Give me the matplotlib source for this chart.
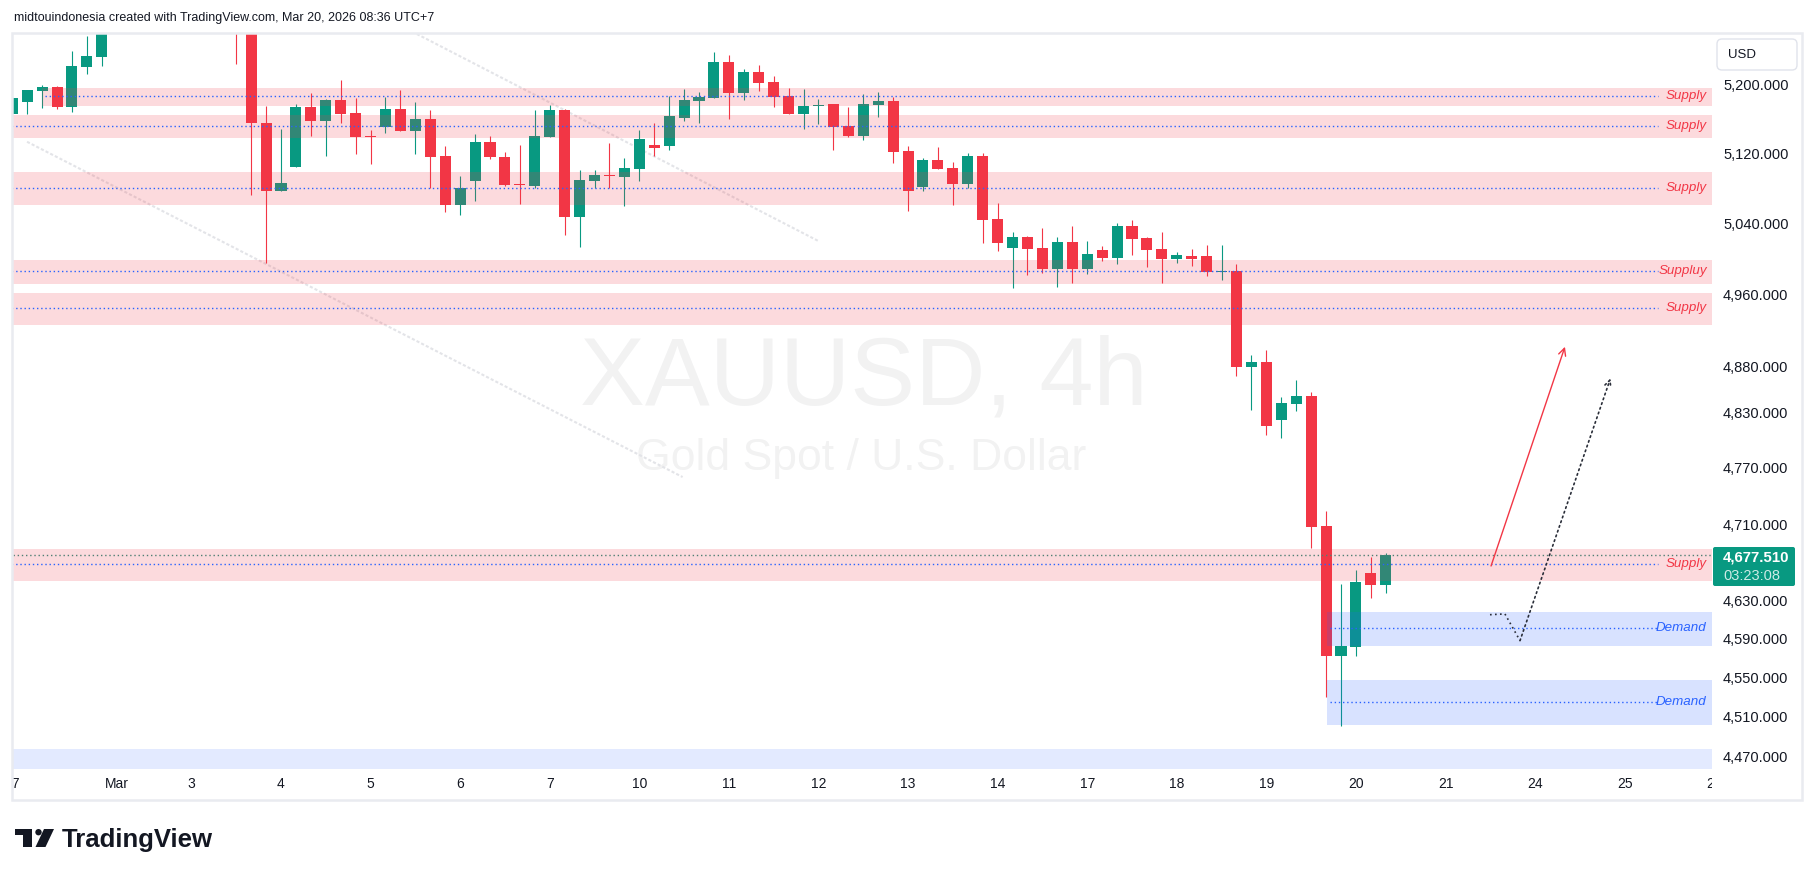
import matplotlib.pyplot as plt
import matplotlib.patches as mpatches
from matplotlib.ticker import FixedLocator, NullLocator, FuncFormatter
import numpy as np

plt.rcParams['font.family'] = ['Liberation Sans', 'DejaVu Sans']

W, H = 1815, 877
nan = np.nan

# ---------------- data (XAUUSD 4h) ----------------
# bar index 0 = first visible bar; bars 7..14 are above the visible range
opens = [5165.5, 5179.9, 5192.8, 5197.1, 5174.0, 5220.9, 5232.6, nan, nan, nan,
         nan, nan, nan, nan, nan, 5300.0, 5290.0, 5155.2, 5077.1, 5104.6,
         5173.4, 5157.8, 5181.9, 5166.7, 5139.8, 5150.8, 5171.4, 5146.2, 5159.8, 5116.9,
         5061.1, 5088.2, 5133.1, 5116.1, 5085.0, 5082.9, 5139.3, 5170.2, 5047.5, 5088.5,
         5095.0, 5093.1, 5102.0, 5129.6, 5128.5, 5160.9, 5181.1, 5184.2, 5226.4, 5190.4,
         5214.7, 5202.9, 5186.6, 5165.5, 5174.5, 5177.2, 5151.3, 5140.5, 5176.0, 5180.7,
         5122.8, 5081.7, 5112.3, 5103.1, 5084.7, 5116.9, 5044.8, 5012.4, 5024.4, 5011.9,
         4988.4, 5018.8, 4988.4, 5009.8, 5000.7, 5036.9, 5023.3, 5010.9, 4999.6, 5003.1,
         5003.1, 4985.4, 4986.3, 4879.9, 4884.7, 4821.6, 4839.3, 4847.8, 4707.9, 4572.5,
         4581.7, 4658.3, 4646.1]
highs = [5186.0, 5194.0, 5199.4, 5198.6, 5239.0, 5257.6, 5280.0, nan, nan, nan,
         nan, nan, nan, nan, nan, 5310.0, 5300.0, 5174.9, 5148.4, 5177.2,
         5190.1, 5183.4, 5205.3, 5184.2, 5147.0, 5185.4, 5193.6, 5179.6, 5170.2, 5128.5,
         5093.9, 5142.4, 5140.5, 5121.6, 5129.6, 5170.2, 5176.0, 5171.0, 5100.8, 5100.8,
         5131.6, 5114.3, 5147.0, 5155.1, 5186.2, 5194.7, 5191.2, 5238.2, 5234.7, 5218.2,
         5222.9, 5210.0, 5195.6, 5194.7, 5183.0, 5177.5, 5173.7, 5188.9, 5191.2, 5185.7,
         5128.5, 5114.6, 5127.3, 5110.0, 5120.4, 5120.4, 5063.1, 5030.0, 5025.5, 5034.6,
         5024.4, 5036.9, 5019.9, 5014.4, 5040.3, 5043.7, 5024.4, 5030.0, 5007.5, 5010.9,
         5015.4, 5015.4, 4994.0, 4892.7, 4898.2, 4846.7, 4865.3, 4852.1, 4723.8, 4646.8,
         4661.5, 4674.9, 4679.4]
lows = [5163.0, 5165.5, 5172.9, 5171.7, 5168.2, 5212.7, 5222.1, nan, nan, nan,
        nan, nan, nan, nan, nan, 5224.3, 5072.6, 4995.5, 5077.0, 5104.3,
        5140.4, 5117.3, 5155.5, 5119.6, 5107.8, 5143.9, 5146.0, 5119.6, 5080.2, 5052.8,
        5049.7, 5065.4, 5113.8, 5082.5, 5062.3, 5080.6, 5138.6, 5027.1, 5013.5, 5080.6,
        5079.9, 5060.0, 5088.2, 5116.6, 5123.9, 5157.8, 5155.5, 5184.0, 5159.8, 5181.9,
        5192.8, 5173.7, 5165.9, 5148.5, 5154.3, 5123.9, 5139.3, 5135.4, 5162.1, 5108.5,
        5054.0, 5076.8, 5102.0, 5060.8, 5079.9, 5018.1, 5009.0, 4966.8, 4981.6, 4983.9,
        4968.6, 4973.0, 4983.2, 4997.3, 4994.0, 5004.2, 4990.6, 4973.0, 4995.2, 4991.7,
        4980.6, 4976.0, 4870.0, 4832.5, 4805.4, 4802.1, 4831.4, 4684.9, 4529.7, 4500.9,
        4572.5, 4632.5, 4637.8]
closes = [5184.2, 5193.6, 5197.1, 5174.0, 5221.7, 5233.5, 5272.0, nan, nan, nan,
          nan, nan, nan, nan, nan, 5275.0, 5155.5, 5077.1, 5086.5, 5173.4,
          5157.8, 5181.9, 5165.9, 5139.3, 5139.0, 5171.4, 5146.2, 5159.8, 5116.1, 5061.1,
          5080.2, 5133.1, 5116.1, 5083.6, 5084.0, 5140.5, 5170.2, 5047.5, 5089.0, 5095.1,
          5094.0, 5103.1, 5136.6, 5126.5, 5163.2, 5181.9, 5185.0, 5226.4, 5190.4, 5214.7,
          5202.1, 5185.7, 5165.9, 5174.9, 5175.0, 5150.8, 5140.5, 5177.2, 5180.7, 5121.6,
          5076.8, 5112.3, 5102.0, 5084.7, 5116.9, 5043.7, 5018.1, 5024.4, 5011.4, 4988.4,
          5018.8, 4988.4, 5005.3, 5000.7, 5036.9, 5022.2, 5009.8, 4999.9, 5004.2, 4999.6,
          4985.4, 4986.0, 4879.9, 4884.7, 4815.1, 4840.2, 4847.8, 4707.1, 4572.5, 4582.4,
          4648.9, 4646.1, 4677.51]
last_price = 4677.51
countdown = "03:23:08"

# supply / demand zones
zone_top = [5195.9, 5164.4, 5098.6, 4998.5, 4961.5, 4683.6, 4617.6, 4547.5, 4477.4]
zone_bottom = [5174.9, 5138.1, 5061.1, 4971.9, 4926.2, 4650.3, 4582.7, 4501.6, 4440.0]
zone_level = [5186.2, 5151.3, 5079.9, 4985.8, 4944.5, 4667.5, 4601.0, 4525.0, nan]
zone_label = ["Supply", "Supply", "Supply", "Suppluy", "Supply", "Supply", "Demand", "Demand", ""]
zone_kind = ["supply"] * 6 + ["demand", "demand", "faint"]
zone_start = [2.0, -1, -1, -1, -1, -1, 88.05, 88.05, -1]

# drawings
arrow_bar = [99.05, 104.0]
arrow_price = [4665.7, 4901.8]
path_bar = [98.98, 99.98, 100.99, 107.05]
path_price = [4614.8, 4615.6, 4587.9, 4867.0]
chan_a_bar = [27.1, 54.0]
chan_a_price = [5259.5, 5019.9]
chan_b_bar = [0.99, 44.9]
chan_b_price = [5133.4, 4760.1]

# axes labels
price_ticks = [5200, 5120, 5040, 4960, 4880, 4830, 4770, 4710, 4630, 4590, 4550, 4510, 4470]
day_pos = [0, 7, 12, 18, 24, 30, 36, 42, 48, 54, 60, 66, 72, 78, 84, 90, 96, 102, 108, 114]
day_text = ["27", "Mar", "3", "4", "5", "6", "7", "10", "11", "12", "13", "14",
            "17", "18", "19", "20", "21", "24", "25", "26"]

UP = "#089981"
DOWN = "#f23645"
BLUE = "#2962ff"
TXT = "#131722"

# ---------------- figure ----------------
fig = plt.figure(figsize=(W / 100, H / 100), dpi=100)
fig.patch.set_facecolor("white")

px_l, px_r, px_t, px_b = 13, 1712, 34, 768
ax = fig.add_axes([px_l / W, 1 - px_b / H, (px_r - px_l) / W, (px_b - px_t) / H])
ax.set_yscale("log")
ax.set_xlim(0.05, 113.85)
ax.set_ylim(4458.2, 5259.5)
for s in ax.spines.values():
    s.set_visible(False)

# watermark
ax.text(0.501, 0.4946, "XAUUSD, 4h", transform=ax.transAxes, ha="center", va="baseline",
        fontsize=70, color=TXT, alpha=0.055, zorder=0)
ax.text(0.499, 0.406, "Gold Spot / U.S. Dollar", transform=ax.transAxes, ha="center",
        va="baseline", fontsize=32, color=TXT, alpha=0.055, zorder=0)

# channel lines (very faint)
ax.plot(chan_a_bar, chan_a_price, color="#e3e4e8", lw=1.5, ls=(0, (1.5, 1)), zorder=1)
ax.plot(chan_b_bar, chan_b_price, color="#e3e4e8", lw=1.5, ls=(0, (1.5, 1)), zorder=1)

# candles
o = np.array(opens); h = np.array(highs); l = np.array(lows); c = np.array(closes)
idx = np.arange(len(o))
ok = ~np.isnan(o)
col = np.where(c >= o, UP, DOWN)
ax.vlines(idx[ok], l[ok], h[ok], colors=col[ok], lw=0.8, zorder=2)
body_lo = np.minimum(o, c)
body_h = np.maximum(np.abs(c - o), 1.0)
ax.bar(idx[ok], body_h[ok], bottom=body_lo[ok], width=0.74, color=col[ok], linewidth=0, zorder=3)

# zones (drawn over candles, translucent)
x_right = 113.85
for top, bot, lev, lab, kind, start in zip(zone_top, zone_bottom, zone_level,
                                            zone_label, zone_kind, zone_start):
    if kind == "supply":
        fc, a, tc = DOWN, 0.18, DOWN
    elif kind == "demand":
        fc, a, tc = BLUE, 0.18, BLUE
    else:
        fc, a, tc = BLUE, 0.13, BLUE
    ax.fill_between([start, x_right], bot, top, color=fc, alpha=a, lw=0, zorder=4)
    if not np.isnan(lev):
        ls = start + 0.2 if start > 0 else start
        ax.plot([ls, 110.2], [lev, lev], color=BLUE, lw=1.0, ls=(0, (1, 2)), zorder=5)
        ax.text(113.5, lev, lab, ha="right", va="center", style="italic", fontsize=9.6,
                color=tc, zorder=6)

# last price line
ax.axhline(last_price, color="#4f7f74", lw=1.0, ls=(0, (1, 2)), zorder=5)

# arrows
ax.annotate("", xy=(arrow_bar[1], arrow_price[1]), xytext=(arrow_bar[0], arrow_price[0]),
            arrowprops=dict(arrowstyle="->", color=DOWN, lw=1.0, mutation_scale=13,
                            shrinkA=0, shrinkB=0), zorder=7)
ax.plot(path_bar[:-1], path_price[:-1], color="#2a2e39", lw=1.2, ls=(0, (1, 2)), zorder=7)
ax.annotate("", xy=(path_bar[-1], path_price[-1]), xytext=(path_bar[-2], path_price[-2]),
            arrowprops=dict(arrowstyle="->", color="#2a2e39", lw=1.2, ls=(0, (1, 2)),
                            mutation_scale=11, shrinkA=0, shrinkB=0), zorder=7)

# price scale
ax.yaxis.tick_right()
ax.yaxis.set_major_locator(FixedLocator(price_ticks))
ax.yaxis.set_minor_locator(NullLocator())
ax.yaxis.set_major_formatter(FuncFormatter(lambda v, p: f"{v:,.3f}"))
ax.tick_params(axis="y", length=0, pad=8.0, labelsize=10.5, labelcolor=TXT)
ax.tick_params(axis="x", bottom=False, labelbottom=False)

# time scale (own axes so edge labels are clipped like the original)
ax_t = fig.add_axes([px_l / W, 1 - 800 / H, (px_r - px_l) / W, (800 - px_b) / H])
ax_t.set_xlim(ax.get_xlim())
ax_t.set_ylim(0, 1)
ax_t.axis("off")
for pos, txt in zip(day_pos, day_text):
    ax_t.text(pos, 0.5, txt, ha="center", va="center", fontsize=10, color=TXT, clip_on=True)

# ---------------- overlay (pixel coordinates) ----------------
ov = fig.add_axes([0, 0, 1, 1], zorder=5)
ov.set_xlim(0, W)
ov.set_ylim(H, 0)
ov.axis("off")

ov.text(14, 18, "midtouindonesia created with TradingView.com, Mar 20, 2026 08:36 UTC+7",
        ha="left", va="center", fontsize=9.0, color=TXT)

ov.add_patch(mpatches.Rectangle((12, 33), 1790, 767, fill=False, ec="#e9ebf0", lw=1.8))

ov.add_patch(mpatches.FancyBboxPatch((1717, 39), 80, 31, boxstyle="round,pad=0,rounding_size=5",
                                     fc="white", ec="#e0e3eb", lw=1.0))
ov.text(1728, 55, "USD", ha="left", va="center", fontsize=9.5, color=TXT)

ov.add_patch(mpatches.FancyBboxPatch((1713, 547), 82, 39, boxstyle="round,pad=0,rounding_size=2",
                                     fc=UP, ec="none"))
ov.text(1723, 557, f"{last_price:,.3f}", ha="left", va="center", fontsize=10.8,
        fontweight="bold", color="white")
ov.text(1723, 576, countdown, ha="left", va="center", fontsize=10.5, color="white", alpha=0.8)

# TradingView logo
ov.add_patch(mpatches.Rectangle((15, 829), 17.3, 6, fc=TXT, ec="none"))
ov.add_patch(mpatches.Rectangle((23.3, 829), 9, 18, fc=TXT, ec="none"))
ov.add_patch(mpatches.Circle((38.5, 832.2), 3.2, fc=TXT, ec="none"))
ov.add_patch(mpatches.Polygon([(44, 829), (54, 829), (45.5, 847), (35.5, 847)], fc=TXT, ec="none"))
ov.text(62, 847, "TradingView", ha="left", va="baseline", fontsize=18.5, fontweight="bold",
        color=TXT)

fig.savefig("out.png", dpi=100, facecolor="white")
